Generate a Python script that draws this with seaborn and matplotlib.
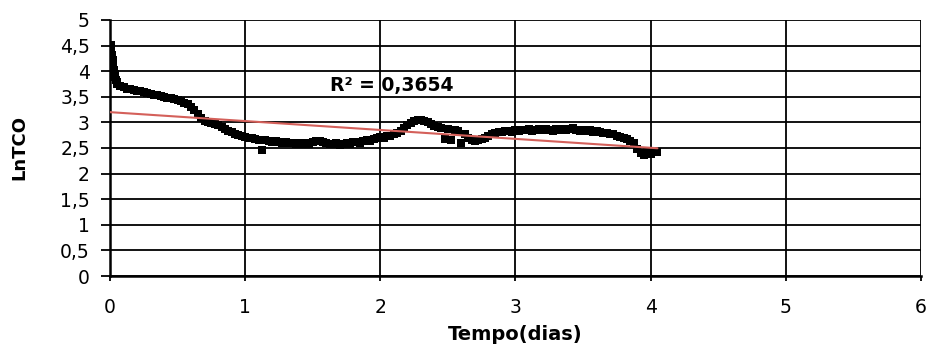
import numpy as np
import pandas as pd
import matplotlib
matplotlib.use("Agg")
import matplotlib.pyplot as plt
import seaborn as sns

# Sampling times (days): a dense start, then every 0.025 day
early_time = [0.005, 0.01, 0.015, 0.02, 0.025, 0.03, 0.035, 0.04, 0.045, 0.05, 0.055]
early_lntco = [4.52, 4.46, 4.32, 4.22, 4.12, 4.02, 3.95, 3.88, 3.82, 3.78, 3.75]

main_start, main_step = 0.075, 0.025
main_lntco = [
    3.72, 3.69, 3.66, 3.66, 3.64, 3.62, 3.61, 3.59, 3.57, 3.56,
    3.54, 3.53, 3.51, 3.50, 3.48, 3.47, 3.45, 3.43, 3.41, 3.38,
    3.36, 3.31, 3.24, 3.16, 3.09, 3.03, 3.00, 2.99, 2.96, 2.94,
    2.91, 2.88, 2.84, 2.81, 2.78, 2.76, 2.73, 2.72, 2.70, 2.69,
    2.68, 2.66, 2.47, 2.65, 2.64, 2.62, 2.64, 2.61, 2.60, 2.62,
    2.59, 2.60, 2.58, 2.59, 2.57, 2.60, 2.58, 2.61, 2.63, 2.64,
    2.62, 2.60, 2.58, 2.57, 2.59, 2.56, 2.58, 2.60, 2.58, 2.61,
    2.62, 2.60, 2.64, 2.66, 2.63, 2.68, 2.70, 2.72, 2.69, 2.74,
    2.73, 2.77, 2.80, 2.84, 2.90, 2.95, 2.98, 3.02, 3.04, 3.05,
    3.03, 3.00, 2.97, 2.93, 2.91, 2.89, 2.68, 2.88, 2.66, 2.86,
    2.84, 2.60, 2.78, 2.70, 2.66, 2.64, 2.65, 2.67, 2.70, 2.74,
    2.78, 2.80, 2.82, 2.81, 2.83, 2.84, 2.82, 2.85, 2.84, 2.86,
    2.85, 2.87, 2.84, 2.86, 2.88, 2.85, 2.87, 2.86, 2.84, 2.87,
    2.86, 2.88, 2.85, 2.87, 2.89, 2.86, 2.84, 2.86, 2.83, 2.85,
    2.82, 2.84, 2.81, 2.79, 2.80, 2.77, 2.78, 2.74, 2.72, 2.70,
    2.67, 2.64, 2.60, 2.48, 2.40, 2.36, 2.42, 2.38, 2.45, 2.42,
]
main_time = np.round(main_start + main_step * np.arange(len(main_lntco)), 3)

# Linear trend line (Excel-style) and its fit quality
trend_intercept = 3.20
trend_slope = -0.174
r2_label = "R² = 0,3654"

x_ticks = [0, 1, 2, 3, 4, 5, 6]
y_ticks = [0, 0.5, 1, 1.5, 2, 2.5, 3, 3.5, 4, 4.5, 5]
y_tick_labels = ["0", "0,5", "1", "1,5", "2", "2,5", "3", "3,5", "4", "4,5", "5"]

df = pd.DataFrame({
    "tempo": np.concatenate([early_time, main_time]),
    "lntco": np.concatenate([early_lntco, main_lntco]),
})
t_span = np.array([0.0, df["tempo"].max()])
trend = pd.DataFrame({"tempo": t_span,
                      "lntco": trend_intercept + trend_slope * t_span})

sns.set_style("white")
plt.rcParams["font.family"] = ["DejaVu Sans"]
plt.rcParams.update({"text.color": "black", "axes.labelcolor": "black",
                     "xtick.color": "black", "ytick.color": "black"})

fig = plt.figure(figsize=(9.3, 3.47), dpi=100)
ax = fig.add_axes([0.1183, 0.2046, 0.8720, 0.7378])

sns.scatterplot(data=df, x="tempo", y="lntco", ax=ax, marker="s", s=28,
                color="black", edgecolor="black", linewidth=0, zorder=3)
sns.lineplot(data=trend, x="tempo", y="lntco", ax=ax, color="#d4605a",
             lw=1.5, zorder=4)

ax.set_xlim(0, 6)
ax.set_ylim(0, 5)
ax.set_xticks(x_ticks)
ax.set_xticklabels([str(t) for t in x_ticks])
ax.set_yticks(y_ticks)
ax.set_yticklabels(y_tick_labels)
ax.grid(True, color="black", lw=1.3)
ax.set_axisbelow(True)

for side in ["left", "bottom"]:
    ax.spines[side].set_color("black")
    ax.spines[side].set_linewidth(1.8)
for side in ["top", "right"]:
    ax.spines[side].set_visible(False)

ax.tick_params(axis="y", which="major", left=True, length=6.5, width=1.3,
               color="black", labelcolor="black", labelsize=13.5, pad=8)
ax.tick_params(axis="x", which="major", bottom=True, length=3.5, width=1.3,
               color="black", labelcolor="black", labelsize=13.5, pad=12)

ax.set_xlabel("Tempo(dias)", fontsize=14, fontweight="bold", labelpad=6,
              color="black")
ax.set_ylabel("LnTCO", fontsize=13, fontweight="bold", color="black")
ax.yaxis.set_label_coords(-0.101, 0.5)

ax.text(1.63, 3.73, r2_label, fontsize=13.5, fontweight="bold",
        color="black", ha="left", va="center", zorder=5)

fig.savefig("out.png", dpi=100)
